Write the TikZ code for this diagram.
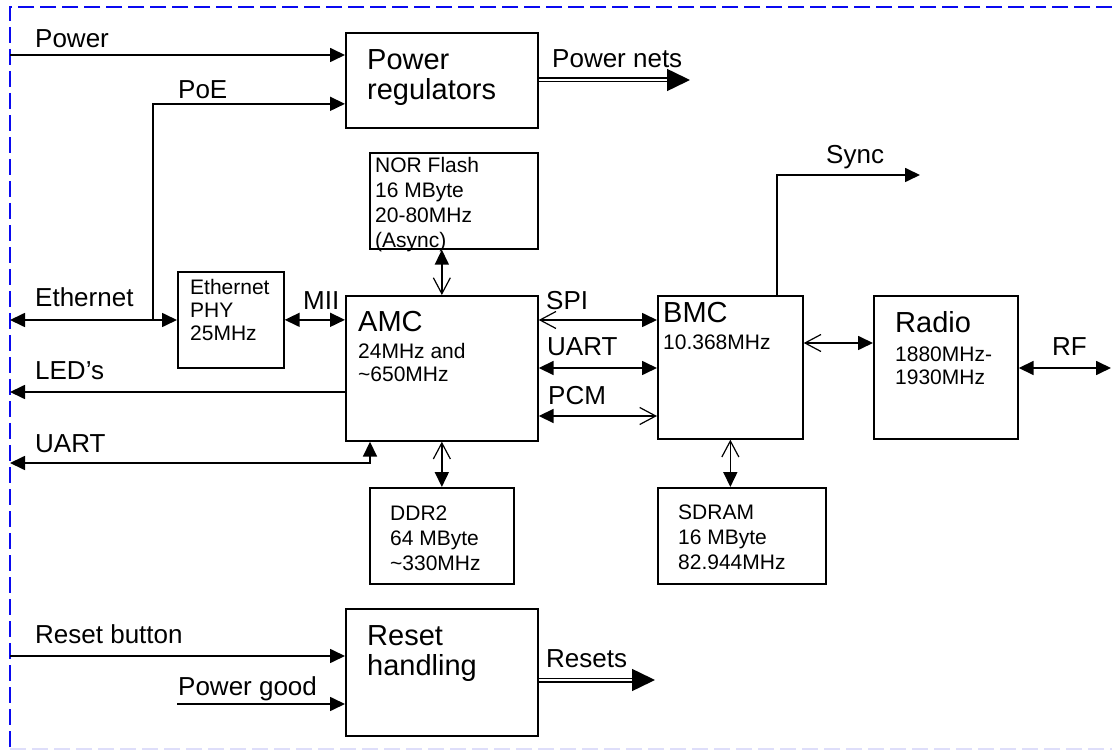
\documentclass[tikz,border=0pt]{standalone}
\usepackage{fontspec}
\setmainfont{Liberation Sans}
\usepackage{xcolor}
\usetikzlibrary{arrows.meta,positioning}
\definecolor{frameblue}{RGB}{10,10,240}
\definecolor{framefaint}{RGB}{222,222,250}

\begin{document}
\begin{tikzpicture}[
    x=1pt, y=-1pt,
    filltip/.tip={Triangle[length=15pt,width=14pt]},
    opentip/.tip={Straight Barb[length=16pt,width=17pt,line width=1.2pt]},
    blk/.style={draw, line width=1.7pt, inner sep=0, anchor=north west},
    txt/.style={inner sep=0, anchor=base west, align=left},
    bigtxt/.style={txt, font=\fontsize{29}{30}\selectfont},
    smalltxt/.style={txt, font=\fontsize{21}{25}\selectfont},
    lbl/.style={inner sep=0, anchor=base west, font=\fontsize{26}{30}\selectfont},
    link/.style={line width=1.7pt},
    bus/.style={double, double distance=2pt, line width=1.5pt, -{Triangle[length=23pt,width=22pt]}},
    frame/.style={dash pattern=on 16pt off 6pt, line width=1.8pt}]
\useasboundingbox (0,0) rectangle (1112,751);

% dashed outline
\draw[frame, frameblue] (1112,7) -- (10,7) -- (10,751);
\draw[frame, framefaint] (10,749) -- (1112,749);

% blocks
\node[blk, minimum width=192, minimum height=95]  (reg)   at (345,32)  {};
\node[blk, minimum width=168, minimum height=96]  (nor)   at (369,152) {};
\node[blk, minimum width=106, minimum height=96]  (phy)   at (177,271) {};
\node[blk, minimum width=192, minimum height=145] (amc)   at (345,295) {};
\node[blk, minimum width=145, minimum height=143] (bmc)   at (657,295) {};
\node[blk, minimum width=144, minimum height=143] (radio) at (873,295) {};
\node[blk, minimum width=144, minimum height=96]  (ddr)   at (369,487) {};
\node[blk, minimum width=168, minimum height=96]  (sdram) at (657,487) {};
\node[blk, minimum width=192, minimum height=127] (rst)   at (345,608) {};

% block texts (base = last line)
\node[bigtxt]   (regtxt)    at ([xshift=22pt,yshift=-68pt]reg.north west)   {Power\\regulators};
\node[smalltxt] (nortxt)    at ([xshift=6pt,yshift=-96pt]nor.north west)    {NOR Flash\\16 MByte\\20-80MHz\\(Async)};
\node[smalltxt, font=\fontsize{21}{23}\selectfont] (phytxt) at ([xshift=13pt,yshift=-70pt]phy.north west) {Ethernet\\PHY\\25MHz};
\node[bigtxt]   (amcname)   at ([xshift=13pt,yshift=-37pt]amc.north west)   {AMC};
\node[smalltxt, font=\fontsize{21}{24}\selectfont] (amcfreq) at ([xshift=13pt,yshift=-87pt]amc.north west) {24MHz and\\\textasciitilde650MHz};
\node[bigtxt]   (bmcname)   at ([xshift=6pt,yshift=-28pt]bmc.north west)    {BMC};
\node[smalltxt] (bmcfreq)   at ([xshift=6pt,yshift=-55pt]bmc.north west)    {10.368MHz};
\node[bigtxt]   (radioname) at ([xshift=22pt,yshift=-38pt]radio.north west) {Radio};
\node[smalltxt, font=\fontsize{21}{24}\selectfont] (radiofreq) at ([xshift=22pt,yshift=-90pt]radio.north west) {1880MHz-\\1930MHz};
\node[smalltxt] (ddrtxt)    at ([xshift=21pt,yshift=-83pt]ddr.north west)   {DDR2\\64 MByte\\\textasciitilde330MHz};
\node[smalltxt] (sdramtxt)  at ([xshift=21pt,yshift=-82pt]sdram.north west) {SDRAM\\16 MByte\\82.944MHz};
\node[bigtxt]   (rsttxt)    at ([xshift=22pt,yshift=-67pt]rst.north west)   {Reset\\handling};

% free ends
\coordinate (powerin) at (10,55);
\coordinate (poetap)  at (153,320);
\coordinate (netsout) at (690,80);
\coordinate (ethin)   at (10,320);
\coordinate (ledout)  at (10,392);
\coordinate (uartout) at (10,463);
\coordinate (syncout) at (920,175);
\coordinate (rfout)   at (1111,368);
\coordinate (rstin)   at (10,656);
\coordinate (pgin)    at (177,704);
\coordinate (rstout)  at (655,680);

% connectors
\draw[link, -filltip] (powerin) -- (powerin -| reg.west);
\draw[link, -filltip] (poetap) |- ([yshift=-23.5pt]reg.west);
\draw[bus] (reg.east |- netsout) -- (netsout);
\draw[link, filltip-filltip] (ethin) -- (phy.west |- ethin);
\draw[link, filltip-filltip] (phy.east) -- (phy.east -| amc.west);
\draw[link, -filltip] (ledout -| amc.west) -- (ledout);
\draw[link, filltip-filltip] (uartout) -| ([xshift=25pt]amc.south west);
\draw[link, filltip-opentip] (nor.south -| amc.north) -- (amc.north);
\draw[link, opentip-filltip] (amc.south) -- (ddr.north);
\draw[link, opentip-filltip] ([yshift=-25pt]amc.north east) -- ([yshift=-25pt]bmc.north west);
\draw[link, filltip-filltip] ([yshift=-73pt]amc.north east) -- ([yshift=-73pt]bmc.north west);
\draw[link, filltip-opentip] ([yshift=-121pt]amc.north east) -- ([yshift=-121pt]bmc.north west);
\draw[link, opentip-filltip] ([yshift=-48pt]bmc.north east) -- ([yshift=-48pt]radio.north west);
\draw[link, filltip-filltip] (radio.east |- rfout) -- (rfout);
\draw[link, -filltip] ([xshift=120pt]bmc.north west) |- (syncout);
\draw[link, opentip-filltip] (bmc.south) -- (bmc.south |- sdram.north);
\draw[link, -filltip] (rstin) -- (rstin -| rst.west);
\draw[link, -filltip] (pgin) -- (pgin -| rst.west);
\draw[bus] (rstout -| rst.east) -- (rstout);

% connector labels
\node[lbl] (lblpower)  at (35,48)   {Power};
\node[lbl] (lblpoe)    at (178,99)  {PoE};
\node[lbl] (lblnets)   at (552,68)  {Power nets};
\node[lbl] (lbleth)    at (35,307)  {Ethernet};
\node[lbl] (lblmii)    at (303,310) {MII};
\node[lbl] (lblled)    at (35,380)  {LED’s};
\node[lbl] (lbluart)   at (35,453)  {UART};
\node[lbl] (lblspi)    at (546,310) {SPI};
\node[lbl] (lbluartb)  at (547,356) {UART};
\node[lbl] (lblpcm)    at (548,405) {PCM};
\node[lbl] (lblsync)   at (826,164) {Sync};
\node[lbl] (lblrf)     at (1052,356) {RF};
\node[lbl] (lblrstbtn) at (35,643)  {Reset button};
\node[lbl] (lblpgood)  at (178,695) {Power good};
\node[lbl] (lblresets) at (546,667) {Resets};

\end{tikzpicture}
\end{document}
